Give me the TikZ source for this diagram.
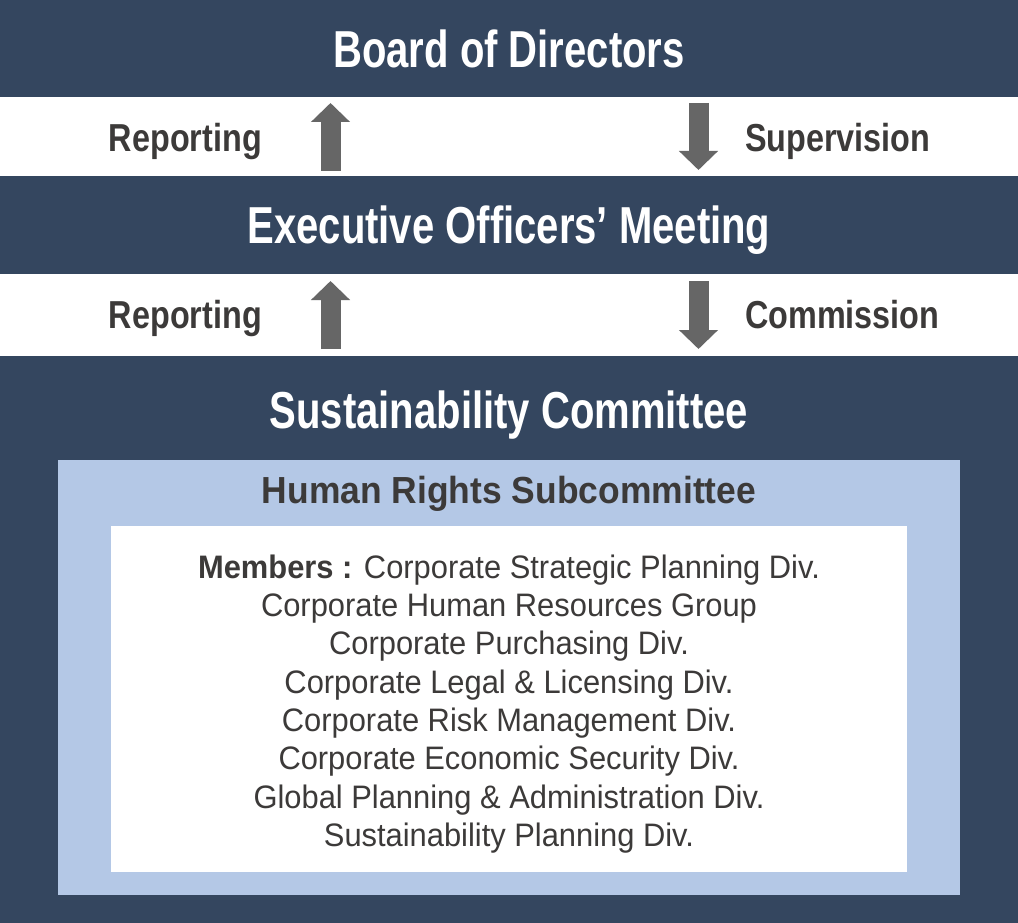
\documentclass[tikz,border=0pt]{standalone}
\usepackage{fontspec}
\setmainfont{Liberation Sans}
\newfontfamily\headfont[FakeStretch=0.77]{Liberation Sans}
\newfontfamily\labelfont[FakeStretch=0.83]{Liberation Sans}
\newfontfamily\subfont[FakeStretch=0.94]{Liberation Sans}
\newfontfamily\memberfont[FakeStretch=0.95]{Liberation Sans}
\usetikzlibrary{arrows.meta}
\definecolor{navy}{HTML}{34465F}
\definecolor{paleblue}{HTML}{B4C8E6}
\definecolor{arrowgray}{HTML}{666666}
\definecolor{inkgray}{HTML}{3C3A39}
\tikzset{
  band/.style={fill=navy, minimum width=1018pt, inner sep=0pt, outer sep=0pt, anchor=north},
  headtext/.style={text=white, inner sep=0pt, anchor=base, font=\headfont\bfseries\fontsize{52}{60}\selectfont},
  rowtext/.style={text=inkgray, inner sep=0pt, font=\labelfont\bfseries\fontsize{39}{45}\selectfont},
  subtext/.style={text=inkgray, inner sep=0pt, anchor=base, font=\subfont\bfseries\fontsize{37.7}{44}\selectfont},
  memberstext/.style={text=inkgray, inner sep=0pt, align=center, font=\memberfont\fontsize{32.5}{38.3}\selectfont},
  fatarrow/.style={draw=arrowgray, line width=20pt, -{Triangle[width=38pt,length=19pt]}}
}
\begin{document}
\begin{tikzpicture}[x=1pt,y=-1pt]
\useasboundingbox (0,0) rectangle (1018,923);
\fill[white] (0,0) rectangle (1018,923);

\node[band, minimum height=97.5pt] (board) at (509,0) {};
\node[band, minimum height=97.5pt] (exec) at (509,176.5) {};
\node[band, minimum height=567.5pt] (sust) at (509,355.5) {};
\node[fill=paleblue, minimum width=902.5pt, minimum height=435pt, inner sep=0pt, anchor=north west] (hrbox) at (57.5,460) {};
\node[fill=white, minimum width=796pt, minimum height=346pt, inner sep=0pt, anchor=north west] (memberbox) at (111,526) {};

\node[headtext] (boardtext) at (509,67.3) {Board of Directors};
\node[headtext] (exectext) at (509,243.3) {Executive Officers’ Meeting};
\node[headtext] (susttext) at (509,428.3) {Sustainability Committee};
\node[subtext] (hrtext) at (509,503.3) {Human Rights Subcommittee};

\node[rowtext, anchor=base east] (report1) at (262,151.7) {Reporting};
\node[rowtext, anchor=base west] (supervise) at (745,151.7) {Supervision};
\node[rowtext, anchor=base east] (report2) at (262,328) {Reporting};
\node[rowtext, anchor=base west] (commission) at (745,328) {Commission};

\node[memberstext] (members) at (509,704) {{\bfseries Members :} Corporate Strategic Planning Div.\\
  Corporate Human Resources Group\\
  Corporate Purchasing Div.\\
  Corporate Legal \& Licensing Div.\\
  Corporate Risk Management Div.\\
  Corporate Economic Security Div.\\
  Global Planning \& Administration Div.\\
  Sustainability Planning Div.};

\coordinate (upx) at (330.5,0);
\coordinate (downx) at (698.5,0);
\draw[fatarrow, shorten <=5.5pt, shorten >=5.5pt] (exec.north -| upx) -- (board.south -| upx);
\draw[fatarrow, shorten <=5.5pt, shorten >=6.5pt] (board.south -| downx) -- (exec.north -| downx);
\draw[fatarrow, shorten <=6.5pt, shorten >=7pt] (sust.north -| upx) -- (exec.south -| upx);
\draw[fatarrow, shorten <=7pt, shorten >=6.5pt] (exec.south -| downx) -- (sust.north -| downx);
\end{tikzpicture}
\end{document}
